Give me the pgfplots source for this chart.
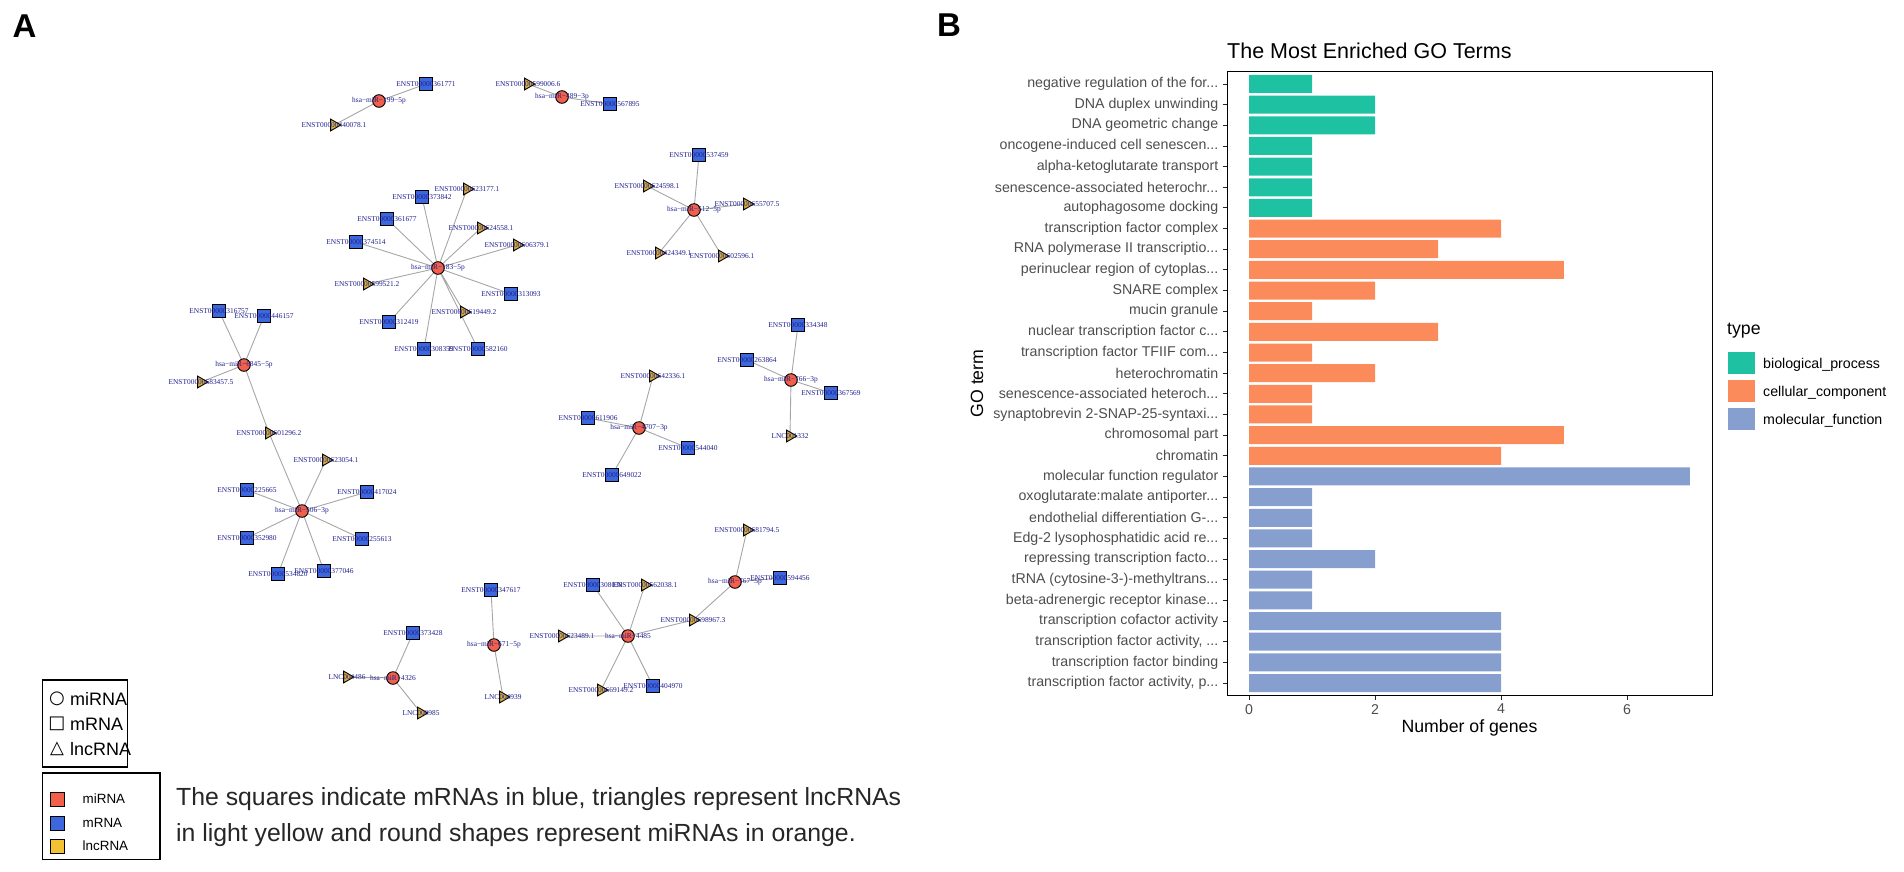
\documentclass[border=0pt]{standalone}
\usepackage{pgfplots}
\pgfplotsset{compat=1.18}
\usepackage{fontspec}
\setmainfont{Liberation Sans}
\newfontfamily\netfont{Liberation Serif}
\newfontfamily\symfont{DejaVu Sans}

\definecolor{bpcol}{HTML}{1EC2A3}
\definecolor{cccol}{HTML}{FC8B5C}
\definecolor{mfcol}{HTML}{869FCF}
\definecolor{mircol}{HTML}{F0604A}
\definecolor{mrnacol}{HTML}{3D68DD}
\definecolor{lnccol}{HTML}{D8AE3C}
\definecolor{lnckey}{HTML}{F2C232}
\definecolor{labcol}{HTML}{1E1E8C}
\definecolor{edgecol}{HTML}{A6A6A6}
\definecolor{axtext}{HTML}{4D4D4D}

\newcommand\fs[1]{\fontsize{#1}{#1}\selectfont}
\newcommand\tr{...}

\begin{document}
\begin{tikzpicture}
\useasboundingbox (0,0) rectangle (1904pt,871pt);

% ---------------- panel A: network (pixel coordinates, y down)
\begin{axis}[at={(0,0)}, anchor=south west, scale only axis,
  width=1904pt, height=871pt, xmin=0, xmax=1904, ymin=0, ymax=871,
  y dir=reverse, hide axis, clip=false]

% edges
\addplot[edgecol, line width=0.9pt, no marks] coordinates {(426,84) (379,101) (334,125)};
\addplot[edgecol, line width=0.9pt, no marks] coordinates {(528,84) (562,97) (610,104)};
\addplot[edgecol, line width=0.9pt, no marks] coordinates {(699,155) (694,210) (647,186) (694,210) (747,204) (694,210) (659,253) (694,210) (722,256)};
\addplot[edgecol, line width=0.9pt, no marks] coordinates {(467,189) (438,268) (422,197) (438,268) (387,219) (438,268) (481,228) (438,268) (356,242) (438,268) (517,245) (438,268) (367,284) (438,268) (511,294) (438,268) (464,312) (438,268) (389,322) (438,268) (424,349) (438,268) (478,349)};
\addplot[edgecol, line width=0.9pt, no marks] coordinates {(219,311) (244,365) (264,316) (244,365) (201,382) (244,365) (269,433)};
\addplot[edgecol, line width=0.9pt, no marks] coordinates {(269,433) (302,511) (326,460) (302,511) (247,490) (302,511) (367,492) (302,511) (247,538) (302,511) (362,539) (302,511) (278,574) (302,511) (324,571)};
\addplot[edgecol, line width=0.9pt, no marks] coordinates {(653,376) (639,428) (588,418) (639,428) (688,448) (639,428) (612,475)};
\addplot[edgecol, line width=0.9pt, no marks] coordinates {(798,325) (791,380) (747,360) (791,380) (831,393) (791,380) (790,436)};
\addplot[edgecol, line width=0.9pt, no marks] coordinates {(413,633) (393,678) (347,677) (393,678) (421,713)};
\addplot[edgecol, line width=0.9pt, no marks] coordinates {(491,590) (494,645) (503,697)};
\addplot[edgecol, line width=0.9pt, no marks] coordinates {(562,636) (628,636) (593,585) (628,636) (645,585) (628,636) (601,690) (628,636) (653,686) (628,636) (693,620) (735,582) (747,530) (735,582) (780,578)};

% nodes
\addplot[only marks, mark=square*, mark size=6.5pt, mark options={fill=mrnacol, draw=black, line width=0.9pt}] coordinates {
(426,84) (610,104) (699,155) (422,197) (387,219) (356,242) (511,294) (389,322) (424,349) (478,349)
(219,311) (264,316) (247,490) (367,492) (247,538) (362,539) (278,574) (324,571) (588,418) (688,448)
(612,475) (798,325) (747,360) (831,393) (413,633) (491,590) (593,585) (653,686) (780,578)};
\addplot[only marks, mark=triangle*, mark size=6.8pt, mark options={rotate=-90, fill=lnccol, draw=black, line width=0.9pt}] coordinates {
(334,125) (528,84) (647,186) (747,204) (659,253) (722,256) (467,189) (481,228) (517,245) (367,284)
(464,312) (201,382) (269,433) (326,460) (653,376) (790,436) (347,677) (421,713) (503,697) (562,636)
(645,585) (693,620) (601,690) (747,530)};
\addplot[only marks, mark=*, mark size=6.3pt, mark options={fill=mircol, draw=black, line width=0.9pt}] coordinates {
(379,101) (562,97) (694,210) (438,268) (244,365) (302,511) (639,428) (791,380) (393,678) (494,645) (628,636) (735,582)};

% node labels
\addplot[only marks, mark=none, nodes near coords, point meta=explicit symbolic,
  every node near coord/.append style={anchor=center, inner sep=0pt, font=\netfont\fs{7.4}, text=labcol}]
  table[meta=lab, row sep=\\] {
x y lab\\
426 84 ENST00000361771\\
610 104 ENST00000567895\\
699 155 ENST00000537459\\
422 197 ENST00000373842\\
387 219 ENST00000361677\\
356 242 ENST00000374514\\
511 294 ENST00000313093\\
389 322 ENST00000312419\\
424 349 ENST00000308359\\
478 349 ENST00000582160\\
219 311 ENST00000316757\\
264 316 ENST00000446157\\
247 490 ENST00000225665\\
367 492 ENST00000417024\\
247 538 ENST00000352980\\
362 539 ENST00000255613\\
278 574 ENST00000534820\\
324 571 ENST00000377046\\
588 418 ENST00000611906\\
688 448 ENST00000544040\\
612 475 ENST00000649022\\
798 325 ENST00000334348\\
747 360 ENST00000263864\\
831 393 ENST00000367569\\
413 633 ENST00000373428\\
491 590 ENST00000347617\\
593 585 ENST00000308038\\
653 686 ENST00000404970\\
780 578 ENST00000594456\\
334 125 ENST00000440078.1\\
528 84 ENST00000599006.6\\
647 186 ENST00000624598.1\\
747 204 ENST00000655707.5\\
659 253 ENST00000424349.1\\
722 256 ENST00000602596.1\\
467 189 ENST00000623177.1\\
481 228 ENST00000624558.1\\
517 245 ENST00000606379.1\\
367 284 ENST00000599521.2\\
464 312 ENST00000619449.2\\
201 382 ENST00000683457.5\\
269 433 ENST00000601296.2\\
326 460 ENST00000623054.1\\
653 376 ENST00000642336.1\\
790 436 LNC001332\\
347 677 LNC004486\\
421 713 LNC000985\\
503 697 LNC004939\\
562 636 ENST00000623489.1\\
645 585 ENST00000562038.1\\
693 620 ENST00000698967.3\\
601 690 ENST00000669149.2\\
747 530 ENST00000681794.5\\
379 101 hsa−miR−199−5p\\
562 97 hsa−miR−489−3p\\
694 210 hsa−miR−512−5p\\
438 268 hsa−miR−183−5p\\
244 365 hsa−miR−6845−5p\\
302 511 hsa−miR−506−3p\\
639 428 hsa−miR−4707−3p\\
791 380 hsa−miR−766−3p\\
393 678 hsa−miR−4326\\
494 645 hsa−miR−671−5p\\
628 636 hsa−miR−4485\\
735 582 hsa−miR−767−5p\\
};

% panel letters
\node[anchor=base west, inner sep=0pt, font=\bfseries\fs{33}] at (axis cs:12.5,37) {A};
\node[anchor=base west, inner sep=0pt, font=\bfseries\fs{33}] at (axis cs:937,36) {B};

% shape legend
\draw[line width=1.1pt] (axis cs:42.5,680) rectangle (axis cs:127.5,767);
\node[font=\symfont\fs{18}, inner sep=0pt] at (axis cs:57,699) {○};
\node[font=\symfont\fs{18}, inner sep=0pt] at (axis cs:57,724) {□};
\node[font=\symfont\fs{18}, inner sep=0pt] at (axis cs:57,749) {△};
\node[anchor=west, font=\fs{18}, inner sep=0pt] at (axis cs:70,699) {miRNA};
\node[anchor=west, font=\fs{18}, inner sep=0pt] at (axis cs:70,724) {mRNA};
\node[anchor=west, font=\fs{18}, inner sep=0pt] at (axis cs:70,749) {lncRNA};

% colour legend
\draw[line width=1.1pt] (axis cs:42.5,773) rectangle (axis cs:160,859.5);
\draw[fill=mircol, line width=0.8pt] (axis cs:50,792) rectangle (axis cs:64,806);
\draw[fill=mrnacol, line width=0.8pt] (axis cs:50,816) rectangle (axis cs:64,830);
\draw[fill=lnckey, line width=0.8pt] (axis cs:50,839) rectangle (axis cs:64,853);
\node[anchor=west, font=\fs{13.4}, inner sep=0pt] at (axis cs:82.5,799) {miRNA};
\node[anchor=west, font=\fs{13.4}, inner sep=0pt] at (axis cs:82.5,823) {mRNA};
\node[anchor=west, font=\fs{13.4}, inner sep=0pt] at (axis cs:82.5,846) {lncRNA};

% caption
\node[anchor=base west, font=\fs{24.8}, inner sep=0pt, text=black!85] at (axis cs:176,805) {The squares indicate mRNAs in blue, triangles represent lncRNAs};
\node[anchor=base west, font=\fs{24.8}, inner sep=0pt, text=black!85] at (axis cs:176,841) {in light yellow and round shapes represent miRNAs in orange.};

% legend of panel B
\node[anchor=base west, font=\fs{17.7}, inner sep=0pt] at (axis cs:1727,334) {type};
\fill[bpcol] (axis cs:1727.5,352) rectangle (axis cs:1754.5,374);
\fill[cccol] (axis cs:1727.5,380) rectangle (axis cs:1754.5,402);
\fill[mfcol] (axis cs:1727.5,408) rectangle (axis cs:1754.5,430);
\node[anchor=base west, font=\fs{14.2}, inner sep=0pt] at (axis cs:1763,368) {biological\_process};
\node[anchor=base west, font=\fs{14.2}, inner sep=0pt] at (axis cs:1763,396) {cellular\_component};
\node[anchor=base west, font=\fs{14.2}, inner sep=0pt] at (axis cs:1763,424) {molecular\_function};
\end{axis}

% ---------------- panel B: enriched GO terms
\begin{axis}[at={(1227pt,175.6pt)}, anchor=south west, scale only axis,
  width=485pt, height=623.8pt,
  xmin=-0.35, xmax=7.35, ymin=0.4, ymax=30.6, y dir=reverse,
  xbar, bar width=18pt,
  xtick={0,2,4,6}, ytick={1,2,...,30},
  yticklabels={negative regulation of the for\tr,DNA duplex unwinding,DNA geometric change,
    oncogene-induced cell senescen\tr,alpha-ketoglutarate transport,senescence-associated heterochr\tr,
    autophagosome docking,transcription factor complex,RNA polymerase II transcriptio\tr,
    perinuclear region of cytoplas\tr,SNARE complex,mucin granule,nuclear transcription factor c\tr,
    transcription factor TFIIF com\tr,heterochromatin,senescence-associated heteroch\tr,
    synaptobrevin 2-SNAP-25-syntaxi\tr,chromosomal part,chromatin,molecular function regulator,
    oxoglutarate:malate antiporter\tr,endothelial differentiation G-\tr,Edg-2 lysophosphatidic acid re\tr,
    repressing transcription facto\tr,tRNA (cytosine-3-)-methyltrans\tr,beta-adrenergic receptor kinase\tr,
    transcription cofactor activity,{transcription factor activity, \tr},transcription factor binding,
    {transcription factor activity, p\tr}},
  tick align=outside, tick pos=left, major tick length=4.5pt,
  every tick/.style={black!85, line width=0.9pt},
  axis line style={line width=1pt},
  /pgf/number format/assume math mode=true,
  ticklabel style={font=\fs{14.2}, text=axtext},
  yticklabel style={inner sep=0pt, xshift=-4pt},
  xticklabel style={inner sep=0pt, yshift=-4pt},
  title={The Most Enriched GO Terms},
  title style={at={(axis description cs:0,1)}, anchor=base west, inner sep=0pt, yshift=7pt, font=\fs{21.5}},
  xlabel={Number of genes},
  xlabel style={at={(axis description cs:0.5,0)}, anchor=center, yshift=-32.6pt, font=\fs{17.7}},
  ylabel={GO term},
  ylabel style={at={(axis description cs:0,0.5)}, anchor=center, yshift=250pt, font=\fs{17.7}},
]
\addplot[fill=bpcol, draw=none, bar shift=0pt] coordinates {
(1,1) (2,2) (2,3) (1,4) (1,5) (1,6) (1,7)};
\addplot[fill=cccol, draw=none, bar shift=0pt] coordinates {
(4,8) (3,9) (5,10) (2,11) (1,12) (3,13) (1,14) (2,15) (1,16) (1,17) (5,18) (4,19)};
\addplot[fill=mfcol, draw=none, bar shift=0pt] coordinates {
(7,20) (1,21) (1,22) (1,23) (2,24) (1,25) (1,26) (4,27) (4,28) (4,29) (4,30)};
\end{axis}
\end{tikzpicture}
\end{document}
